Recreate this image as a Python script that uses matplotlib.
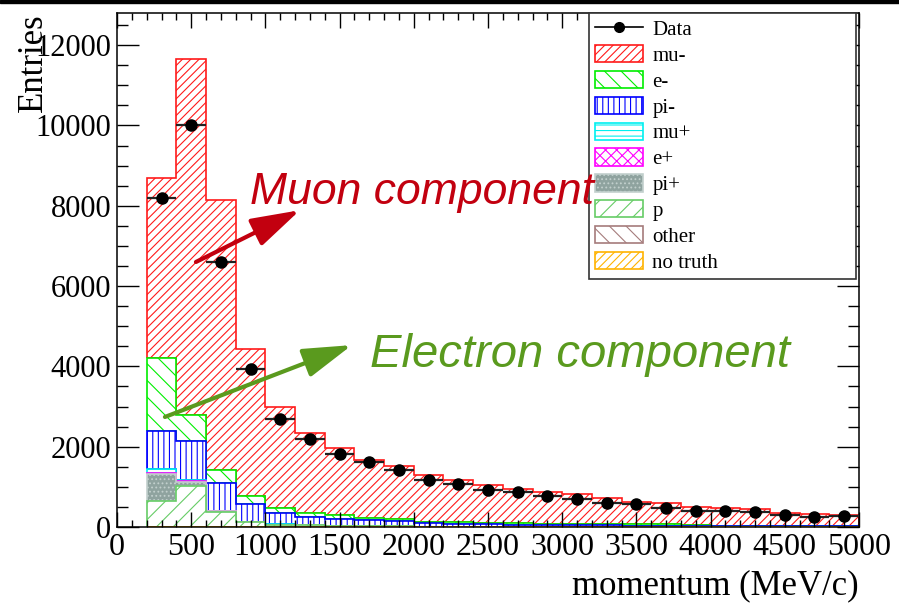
import numpy as np
import matplotlib
matplotlib.use('Agg')
import matplotlib.pyplot as plt
import matplotlib.patches as mpatches
from matplotlib.lines import Line2D
from matplotlib.ticker import MultipleLocator

# momentum bins (MeV/c)
bin_edges = [200, 400, 600, 800, 1000, 1200, 1400, 1600, 1800, 2000, 2200, 2400, 2600,
             2800, 3000, 3200, 3400, 3600, 3800, 4000, 4200, 4400, 4600, 4800, 5000]

# data points
data_entries = [8200, 10000, 6600, 3930, 2690, 2190, 1830, 1630, 1420, 1180, 1070, 920,
                860, 760, 705, 610, 572, 465, 410, 390, 372, 305, 260, 272]

# MC truth components (entries per bin)
mu_minus = [4480, 8855, 6710, 3660, 2510, 1990, 1665, 1443, 1328, 1161, 1053, 937,
            854, 778, 741, 639, 561, 524, 446, 448, 418, 337, 297, 283]
e_minus = [1830, 655, 335, 200, 140, 105, 100, 50, 40, 38, 39, 40,
           37, 35, 35, 35, 35, 33, 32, 0, 0, 0, 0, 0]
pi_minus = [955, 980, 698, 443, 277, 204, 164, 153, 132, 83, 68, 60,
            48, 44, 40, 35, 31, 28, 25, 22, 19, 18, 16, 14]
mu_plus = [85, 20, 5, 2, 1, 0, 0, 0, 0, 0, 0, 0, 0, 0, 0, 0, 0, 0, 0, 0, 0, 0, 0, 0]
e_plus = [30, 10, 2, 1, 0, 0, 0, 0, 0, 0, 0, 0, 0, 0, 0, 0, 0, 0, 0, 0, 0, 0, 0, 0]
pi_plus = [670, 100, 10, 4, 2, 1, 1, 0, 0, 0, 0, 0, 0, 0, 0, 0, 0, 0, 0, 0, 0, 0, 0, 0]
p_vals = [650, 1030, 380, 120, 60, 40, 30, 22, 18, 12, 10, 8, 7, 6, 5, 5, 4, 4, 3, 3, 3, 2, 2, 2]
other = [0] * 24
no_truth = [0] * 24

plt.rcParams['font.family'] = ['Liberation Serif', 'DejaVu Serif']
plt.rcParams['hatch.linewidth'] = 0.8

# stack order, bottom to top: (label, values, line colour, hatch, face)
stack = [
    ('no truth', no_truth, '#ffb300', '////', 'white'),
    ('other', other, '#a57c7c', '\\\\', 'white'),
    ('p', p_vals, '#66cc66', '//', 'white'),
    ('pi+', pi_plus, '#c2d0cd', '....', '#8fa39f'),
    ('e+', e_plus, '#ff00ff', 'xxx', 'white'),
    ('mu+', mu_plus, '#00f0f0', '---', 'white'),
    ('pi-', pi_minus, '#0000ff', '|||', 'white'),
    ('e-', e_minus, '#00ee00', '\\\\', 'white'),
    ('mu-', mu_minus, '#ff1a1a', '////', 'white'),
]

edges = np.array(bin_edges)
centers = (edges[:-1] + edges[1:]) / 2
half_w = (edges[1:] - edges[:-1]) / 2

fig = plt.figure(figsize=(8.99, 6.04), dpi=100)
ax = fig.add_axes([117 / 899, 77 / 604, 742 / 899, 514 / 604])

# cumulative bottoms
bottoms = []
running = np.zeros(len(centers))
for label, vals, col, hatch, face in stack:
    bottoms.append(running.copy())
    running = running + np.array(vals, dtype=float)

# draw from the top of the stack down so lower outlines stay visible
for i in reversed(range(len(stack))):
    label, vals, col, hatch, face = stack[i]
    base = bottoms[i]
    ax.stairs(base + np.array(vals, dtype=float), edges, baseline=base, fill=True,
              facecolor=face, edgecolor=col, hatch=hatch, lw=1.2)

data = np.array(data_entries, dtype=float)
ax.errorbar(centers, data, xerr=half_w, yerr=np.sqrt(data), fmt='o', color='black',
            ecolor='#222222', ms=8, elinewidth=1.6, capsize=0, zorder=5)

ax.set_xlim(0, 5000)
ax.set_ylim(0, 12800)
ax.xaxis.set_major_locator(MultipleLocator(500))
ax.xaxis.set_minor_locator(MultipleLocator(100))
ax.yaxis.set_major_locator(MultipleLocator(2000))
ax.yaxis.set_minor_locator(MultipleLocator(500))
ax.tick_params(which='both', direction='in', top=True, right=True, width=1.0,
               labelsize=22, color='black')
ax.tick_params(axis='x', which='major', length=11, pad=4, labelsize=23)
ax.tick_params(axis='x', which='minor', length=5)
ax.tick_params(axis='y', which='major', length=16, pad=4)
ax.tick_params(axis='y', which='minor', length=8)
for s in ax.spines.values():
    s.set_linewidth(1.1)

ax.set_xlabel('momentum (MeV/c)', fontsize=25)
ax.xaxis.label.set(ha='right', va='top')
ax.xaxis.set_label_coords(1.0, -0.082)
ax.set_ylabel('Entries', fontsize=25)
ax.yaxis.label.set(rotation_mode='default', ha='center', va='top')
ax.yaxis.set_label_coords(-0.113, 1.0)

# legend
handles = [Line2D([], [], color='black', marker='o', ms=7, lw=1.2)]
labels = ['Data']
for label, vals, col, hatch, face in reversed(stack):
    handles.append(mpatches.Patch(facecolor=face, edgecolor=col, hatch=hatch, lw=1.2))
    labels.append(label)
leg = ax.legend(handles, labels, loc='upper left', bbox_to_anchor=(0.636, 0, 0.36, 1.0),
                mode='expand', borderaxespad=0, fontsize=15, handlelength=2.3,
                handleheight=0.9, labelspacing=0.24, handletextpad=0.45,
                borderpad=0.3, fancybox=False, framealpha=1, edgecolor='#333333')
leg.get_frame().set_linewidth(1.2)
leg.set_zorder(6)

# annotations
ax.annotate('', xy=(1233, 7890), xytext=(532, 6600),
            arrowprops=dict(arrowstyle='-|>,head_length=1.5,head_width=0.45',
                            color='#c2000f', lw=3, mutation_scale=20,
                            shrinkA=0, shrinkB=0), zorder=7)
ax.text(896, 8040, 'Muon component', family='Liberation Sans', style='italic',
        fontsize=32, color='#c2000f', va='baseline', zorder=8)
ax.annotate('', xy=(1583, 4530), xytext=(323, 2740),
            arrowprops=dict(arrowstyle='-|>,head_length=1.5,head_width=0.45',
                            color='#5a9a1e', lw=3, mutation_scale=20,
                            shrinkA=0, shrinkB=0), zorder=7)
ax.text(1705, 3983, 'Electron component', family='Liberation Sans', style='italic',
        fontsize=34, color='#5a9a1e', va='baseline', zorder=8)

# slide border on top
fig.add_artist(mpatches.Rectangle((0, 1 - 3 / 604), 1, 3 / 604, transform=fig.transFigure,
                                  color='black'))

plt.savefig('out.png', dpi=100)
